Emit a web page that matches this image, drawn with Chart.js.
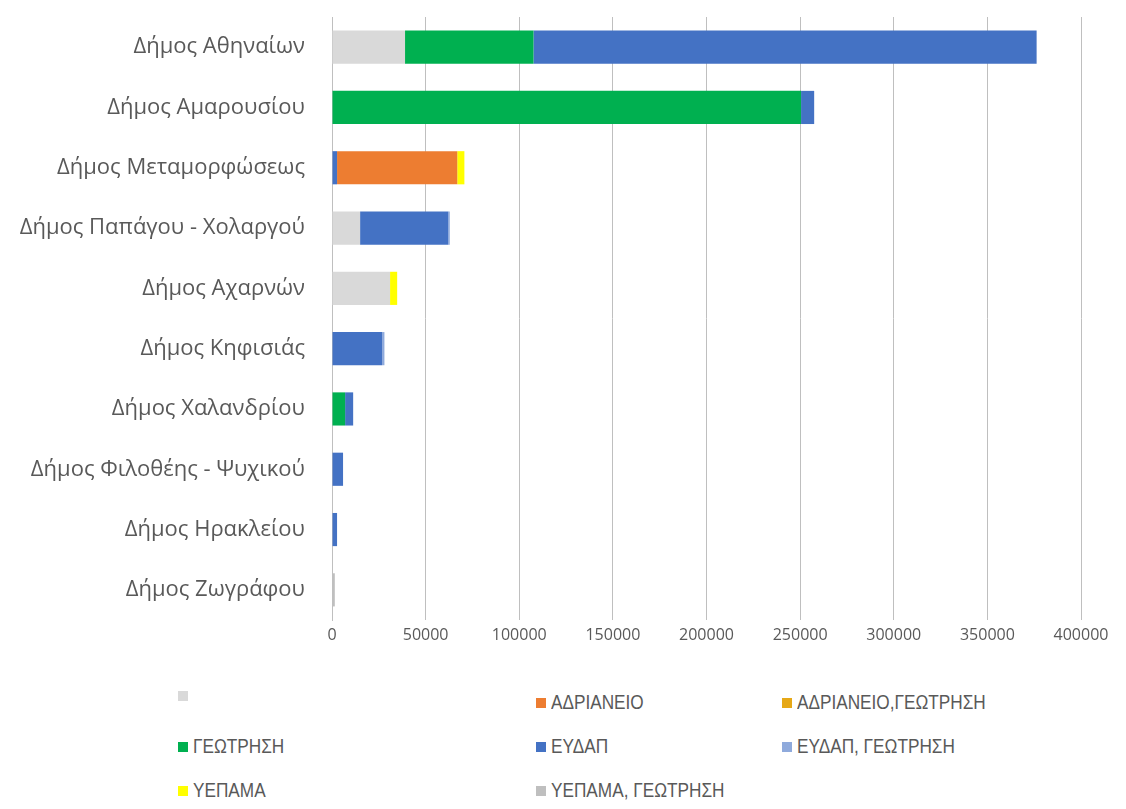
<!DOCTYPE html>
<html>
<head>
<meta charset="utf-8">
<script src="https://cdn.jsdelivr.net/npm/chart.js@4.4.1/dist/chart.umd.min.js"></script>
<style>
  body { margin: 0; background: #fff; width: 1126px; height: 809px; overflow: hidden; position: relative; }
  #wrap { position: absolute; left: 0; top: 0; width: 1126px; height: 660px; }
  .lg { position: absolute; display: flex; align-items: center; font-family: "Liberation Sans Narrow", "Liberation Sans", sans-serif; font-size: 20px; color: #595959; white-space: nowrap; }
  .lg span.box { display: inline-block; width: 10px; height: 10px; margin-right: 5px; }
  .lg span.txt { display: inline-block; transform: scaleX(0.86); transform-origin: left center; }
</style>
</head>
<body>
<div id="wrap"><canvas id="chart"></canvas></div>
<div id="legend"></div>
<script>
const municipalities = [
  "Δήμος Αθηναίων", "Δήμος Αμαρουσίου", "Δήμος Μεταμορφώσεως", "Δήμος Παπάγου - Χολαργού",
  "Δήμος Αχαρνών", "Δήμος Κηφισιάς", "Δήμος Χαλανδρίου", "Δήμος Φιλοθέης - Ψυχικού",
  "Δήμος Ηρακλείου", "Δήμος Ζωγράφου"
];
const sourceNames = ["", "ΑΔΡΙΑΝΕΙΟ", "ΑΔΡΙΑΝΕΙΟ,ΓΕΩΤΡΗΣΗ", "ΓΕΩΤΡΗΣΗ", "ΕΥΔΑΠ", "ΕΥΔΑΠ, ΓΕΩΤΡΗΣΗ", "ΥΕΠΑΜΑ", "ΥΕΠΑΜΑ, ΓΕΩΤΡΗΣΗ"];
const blank        = [39000, 0, 0, 15000, 31000, 0, 0, 0, 0, 0];
const adrianeio    = [0, 0, 64200, 0, 0, 0, 0, 0, 0, 0];
const adrianeioGeo = [0, 0, 0, 0, 0, 0, 0, 0, 0, 0];
const geotrisi     = [68600, 250500, 0, 0, 0, 0, 7000, 0, 0, 0];
const eydap        = [268700, 7000, 2700, 47100, 0, 26800, 4300, 5900, 2700, 0];
const eydapGeo     = [0, 0, 0, 800, 0, 1200, 0, 0, 0, 0];
const yepama       = [0, 0, 3800, 0, 3800, 0, 0, 0, 0, 0];
const yepamaGeo    = [0, 0, 0, 0, 0, 0, 0, 0, 0, 1500];
const xTicks = [0, 50000, 100000, 150000, 200000, 250000, 300000, 350000, 400000];

const colors = ["#D9D9D9", "#ED7D31", "#E6A817", "#00B050", "#4472C4", "#8FAADC", "#FFFF00", "#BFBFBF"];
// stacking order as seen in the bars: blank, ΓΕΩΤΡΗΣΗ, ΕΥΔΑΠ, ΑΔΡΙΑΝΕΙΟ, ...
const stackOrder = [0, 3, 4, 1, 2, 5, 6, 7];
const series = [blank, adrianeio, adrianeioGeo, geotrisi, eydap, eydapGeo, yepama, yepamaGeo];

const chart = new Chart(document.getElementById("chart"), {
  type: "bar",
  data: {
    labels: municipalities,
    datasets: series.map((d, i) => ({
      label: sourceNames[i],
      data: d,
      backgroundColor: colors[i],
      order: stackOrder[i],
      barPercentage: 0.55,
      categoryPercentage: 1
    }))
  },
  options: {
    indexAxis: "y",
    responsive: true,
    maintainAspectRatio: false,
    animation: false,
    layout: { padding: { top: 17, right: 45, left: 0, bottom: 0 } },
    plugins: { legend: { display: false }, tooltip: { enabled: false } },
    scales: {
      x: {
        stacked: true,
        min: 0, max: 400000,
        afterBuildTicks: s => { s.ticks = xTicks.map(v => ({ value: v })); },
        afterFit: s => { s.height = 40; },
        grid: { color: "#BFBFBF", drawTicks: false, lineWidth: 1 },
        border: { display: false },
        ticks: { color: "#595959", padding: 6, font: { family: "Open Sans", size: 16 }, maxRotation: 0, callback: v => String(v) }
      },
      y: {
        stacked: true,
        afterFit: s => { s.width = 332; s.paddingTop = 0; s.paddingBottom = 0; },
        grid: { display: false, drawTicks: false },
        border: { display: true, color: "#BFBFBF" },
        ticks: { color: "#595959", padding: 27, font: { family: "Open Sans", size: 22 } }
      }
    }
  }
});

// legend laid out in three columns like the original
const colX = [178, 536, 782];
const rowY = [703, 747, 791];
const legend = document.getElementById("legend");
chart.data.datasets.forEach((ds, i) => {
  const el = document.createElement("div");
  el.className = "lg";
  el.style.left = colX[i % 3] + "px";
  el.style.top = (rowY[Math.floor(i / 3)] - 12) + "px";
  el.innerHTML = '<span class="box" style="background:' + ds.backgroundColor + '"></span><span class="txt">' + ds.label + '</span>';
  legend.appendChild(el);
});
</script>
</body>
</html>
